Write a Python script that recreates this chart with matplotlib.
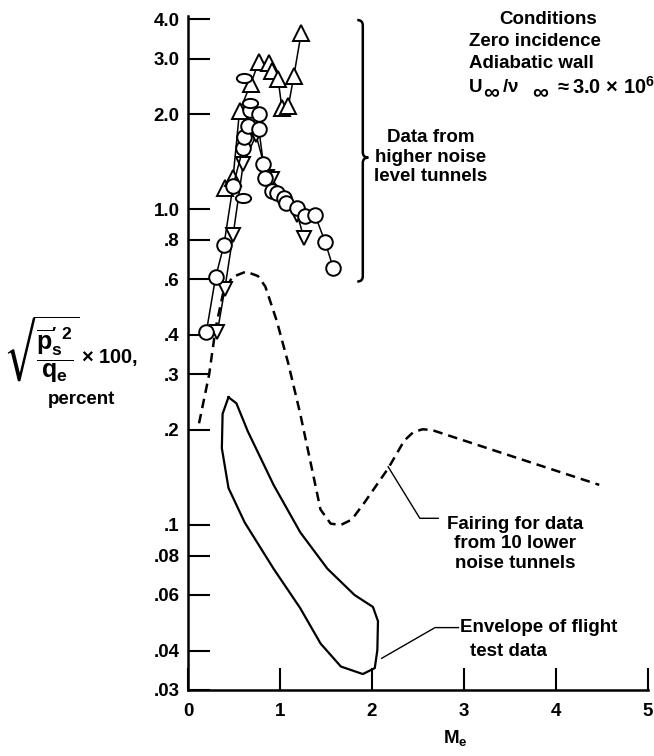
import matplotlib
matplotlib.use("Agg")
import matplotlib.pyplot as plt
from matplotlib.path import Path
from matplotlib.patches import PathPatch
import numpy as np

plt.rcParams['font.family'] = ['Liberation Sans', 'DejaVu Sans']
plt.rcParams['font.weight'] = 'bold'
plt.rcParams['mathtext.fontset'] = 'custom'
plt.rcParams['mathtext.rm'] = 'Liberation Sans:bold'
plt.rcParams['mathtext.it'] = 'Liberation Sans:bold'
plt.rcParams['mathtext.bf'] = 'Liberation Sans:bold'
plt.rcParams['mathtext.sf'] = 'Liberation Sans:bold'
plt.rcParams['mathtext.fallback'] = 'stixsans'

# ---------------- data ----------------
circ_x = [0.20, 0.30, 0.39, 0.49, 0.60, 0.61, 0.65, 0.67, 0.77, 0.77, 0.82, 0.84,
          0.91, 0.97, 1.04, 1.07, 1.18, 1.27, 1.38, 1.49, 1.58]
circ_y = [0.41, 0.61, 0.77, 1.19, 1.57, 1.69, 1.84, 2.06, 2.00, 1.80, 1.39, 1.26,
          1.14, 1.13, 1.09, 1.05, 1.01, 0.95, 0.96, 0.79, 0.65]

up_x = [0.40, 0.49, 0.56, 0.68, 0.77, 0.88, 0.91, 0.98, 1.02, 1.09, 1.15, 1.23]
up_y = [1.17, 1.26, 2.05, 2.49, 2.94, 2.90, 2.74, 2.58, 2.10, 2.12, 2.64, 3.62]

dn_x = [0.32, 0.40, 0.49, 0.60, 0.74, 0.86, 0.91, 1.19, 1.26]
dn_y = [0.41, 0.56, 0.83, 1.39, 1.72, 1.27, 1.25, 0.96, 0.81]

ell_x = [0.61, 0.67, 0.60]
ell_y = [2.61, 2.17, 1.09]

fair_x = [0.12, 0.23, 0.30, 0.38, 0.48, 0.63, 0.76, 0.84, 0.965, 1.09, 1.22, 1.33,
          1.44, 1.55, 1.66, 1.78, 1.92, 2.175, 2.35, 2.45, 2.55, 2.65, 4.47]
fair_y = [0.21, 0.30, 0.42, 0.54, 0.61, 0.635, 0.615, 0.57, 0.443, 0.325, 0.225, 0.159,
          0.112, 0.101, 0.100, 0.104, 0.118, 0.151, 0.185, 0.197, 0.201, 0.200, 0.134]

env_x = [0.44, 0.376, 0.368, 0.44, 0.615, 0.93, 1.22, 1.441, 1.662, 1.90, 2.03,
         2.058, 2.065, 2.01, 1.81, 1.515, 1.22, 0.93, 0.65, 0.526, 0.44]
env_y = [0.254, 0.225, 0.175, 0.131, 0.102, 0.0727, 0.0545, 0.0421, 0.0356, 0.0337,
         0.0352, 0.0401, 0.0496, 0.055, 0.060, 0.0727, 0.0948, 0.134, 0.198, 0.243, 0.254]

xticks = [0, 1, 2, 3, 4, 5]
xtick_labels = ['0', '1', '2', '3', '4', '5']
yticks = [0.03, 0.04, 0.06, 0.08, 0.1, 0.2, 0.3, 0.4, 0.6, 0.8, 1.0, 2.0, 3.0, 4.0]
ytick_labels = ['.03', '.04', '.06', '.08', '.1', '.2', '.3', '.4', '.6', '.8',
                '1.0', '2.0', '3.0', '4.0']

# ---------------- figure ----------------
W, H = 654, 756
fig = plt.figure(figsize=(W / 100, H / 100), dpi=100)
ax = fig.add_axes([188 / W, 66 / H, 460 / W, 674 / H])
ax.set_yscale('log')
ax.set_xlim(0, 5)
ax.set_ylim(0.03, 4.1)

for s in ['top', 'right']:
    ax.spines[s].set_visible(False)
for s in ['left', 'bottom']:
    ax.spines[s].set_linewidth(1.8)

fs = 13.5
ax.set_xticks(xticks, xtick_labels)
ax.set_yticks(yticks, ytick_labels)
ax.yaxis.set_minor_locator(matplotlib.ticker.NullLocator())
ax.xaxis.set_minor_locator(matplotlib.ticker.NullLocator())
ax.tick_params(axis='both', direction='in', length=15.5, width=1.5,
               labelsize=fs, colors='black')
ax.tick_params(axis='y', pad=6)
ax.tick_params(axis='x', pad=9)
for lab in ax.get_xticklabels() + ax.get_yticklabels():
    lab.set_fontweight('bold')

# fairing (dashed)
ax.plot(fair_x, fair_y, color='black', lw=1.8, ls=(0, (3.8, 2.4)), zorder=2)
# flight envelope
ax.plot(env_x, env_y, color='black', lw=1.6, zorder=2, solid_joinstyle='round')

# tunnel data
mk = dict(mfc='white', mec='black', mew=1.4, color='black', lw=1.1, zorder=4)
ax.plot(dn_x, dn_y, marker='v', ms=10.5, **mk)
ax.plot(up_x, up_y, marker='^', ms=11, **mk)
ax.plot(circ_x, circ_y, marker='o', ms=10.5, **mk)
ell = Path.unit_circle().transformed(matplotlib.transforms.Affine2D().scale(1.0, 0.6))
ax.plot(ell_x, ell_y, ls='none', marker=ell, ms=11, mfc='white', mec='black',
        mew=1.4, zorder=5)

# leader lines
ax.plot([2.175, 2.52, 2.72], [0.153, 0.105, 0.105], color='black', lw=1.0,
        clip_on=False, zorder=3)
ax.plot([2.105, 2.685, 2.94], [0.0378, 0.0473, 0.0473], color='black', lw=1.0,
        clip_on=False, zorder=3)

# brace (axes coordinates)
bx = 0.380
top, bot, tip = 0.994, 0.606, 0.790
dx, dy = 0.012, 0.008
verts = [(bx - dx, top), (bx, top), (bx, top - dy),
         (bx, tip + dy), (bx, tip), (bx + dx, tip),
         (bx, tip), (bx, tip - dy),
         (bx, bot + dy), (bx, bot), (bx - dx, bot)]
codes = [Path.MOVETO, Path.CURVE3, Path.CURVE3,
         Path.LINETO, Path.CURVE3, Path.CURVE3,
         Path.CURVE3, Path.CURVE3,
         Path.LINETO, Path.CURVE3, Path.CURVE3]
ax.add_patch(PathPatch(Path(verts, codes), transform=ax.transAxes, fill=False,
                       lw=1.8, ec='black', clip_on=False))

# ---------------- text ----------------
def F(px, py):
    return px / W, 1 - py / H

tk = dict(fontsize=fs, fontweight='bold')
fig.text(*F(548, 19), 'Conditions', ha='center', va='center', **tk)
fig.text(*F(469, 41), 'Zero incidence', ha='left', va='center', **tk)
fig.text(*F(469, 63), 'Adiabatic wall', ha='left', va='center', **tk)
# U_inf / nu_inf ~ 3.0 x 10^6 (pieces placed to match spacing of the original)
fig.text(*F(469, 87), 'U', ha='left', va='center', **tk)
fig.text(*F(483, 93), '\u221e', ha='left', va='center', fontsize=16, fontweight='bold')
fig.text(*F(502, 87), r'/$\nu$', ha='left', va='center', **tk)
fig.text(*F(532, 93), '\u221e', ha='left', va='center', fontsize=16, fontweight='bold')
fig.text(*F(554, 87), r'$\approx$3.0 $\times$ 10$^{6}$', ha='left', va='center',
         fontsize=14.5, fontweight='bold')

fig.text(*F(431, 157), 'Data from\nhigher noise\nlevel tunnels', ha='center',
         va='center', linespacing=1.2, **tk)
fig.text(*F(515, 544), 'Fairing for data\nfrom 10 lower\nnoise tunnels', ha='center',
         va='center', linespacing=1.2, **tk)
fig.text(*F(460, 628), 'Envelope of flight', ha='left', va='center', **tk)
fig.text(*F(470, 652), 'test data', ha='left', va='center', **tk)

fig.text(*F(455, 738), r'M$_{\mathrm{e}}$', ha='center', va='center', **tk)

fig.text(*F(4, 350),
         r"$\sqrt{\dfrac{\overline{\mathrm{p}}_{\mathrm{s}}^{\prime\ 2}}{\mathrm{q}_{\mathrm{e}}}}$",
         ha='left', va='center', fontsize=18, fontweight='bold')
fig.text(*F(81, 358), r'$\times$ 100,', ha='left', va='center', fontsize=14.5,
         fontweight='bold')
fig.text(*F(82, 399), 'percent', ha='center', va='center', **tk)

fig.savefig('out.png', dpi=100)
